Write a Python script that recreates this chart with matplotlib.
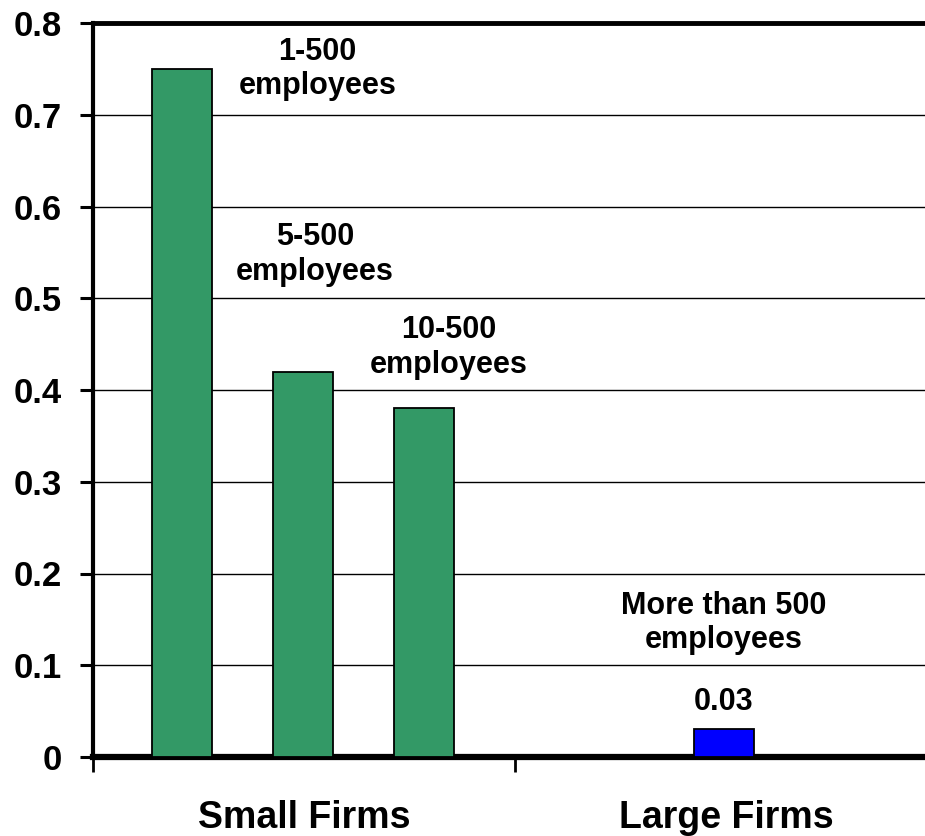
import matplotlib
matplotlib.use("Agg")
import matplotlib.pyplot as plt

categories = ["Small Firms", "Large Firms"]
bar_labels = ["1-500\nemployees", "5-500\nemployees", "10-500\nemployees", "More than 500\nemployees"]
bar_values = [0.75, 0.42, 0.38, 0.03]
bar_positions = [0.211, 0.498, 0.784, 1.495]
bar_colors = ["#339966", "#339966", "#339966", "#0000FF"]
yticks = [0, 0.1, 0.2, 0.3, 0.4, 0.5, 0.6, 0.7, 0.8]
ytick_labels = ["0", "0.1", "0.2", "0.3", "0.4", "0.5", "0.6", "0.7", "0.8"]

plt.rcParams['font.family'] = ['Liberation Sans', 'DejaVu Sans']
W, H = 925, 836
fig = plt.figure(figsize=(W/100, H/100), dpi=100)
left, right, top, bottom = 93, 937, 23, 757
ax = fig.add_axes([left/W, 1-bottom/H, (right-left)/W, (bottom-top)/H])
ax.set_xlim(0, 2)
ax.set_ylim(0, 0.8)

ax.bar(bar_positions, bar_values, width=0.142, color=bar_colors,
       edgecolor="black", linewidth=1.3, zorder=3)

ax.set_yticks(yticks)
ax.set_yticklabels(ytick_labels, fontsize=25, fontweight='bold')
ax.yaxis.grid(True, color='black', linewidth=1.0, zorder=0)
ax.set_axisbelow(True)
ax.set_xticks([0, 1, 2])
ax.set_xticklabels([])
ax.set_xticks([0.5, 1.5], minor=True)
ax.set_xticklabels(categories, minor=True, fontsize=27, fontweight='bold')
ax.tick_params(axis='x', which='minor', length=0, pad=31)
ax.tick_params(axis='x', which='major', length=11, width=2, direction='out', color='black')
ax.tick_params(axis='y', length=9.5, width=2.2, direction='out', pad=13)

ax.spines['left'].set_linewidth(3)
ax.spines['bottom'].set_linewidth(4.5)
ax.spines['top'].set_linewidth(3.5)
ax.spines['right'].set_linewidth(3)

# annotations
label_xy = [(0.532, 0.750), (0.526, 0.548), (0.844, 0.446), (1.494, 0.146)]
for txt, (x, y) in zip(bar_labels, label_xy):
    ax.text(x, y, txt, ha='center', va='center', fontsize=22, fontweight='bold',
            linespacing=1.2)
ax.text(bar_positions[3], 0.0512, f"{bar_values[3]:.2f}", ha='center', va='baseline',
        fontsize=22, fontweight='bold')

fig.savefig("out.png", dpi=100)
